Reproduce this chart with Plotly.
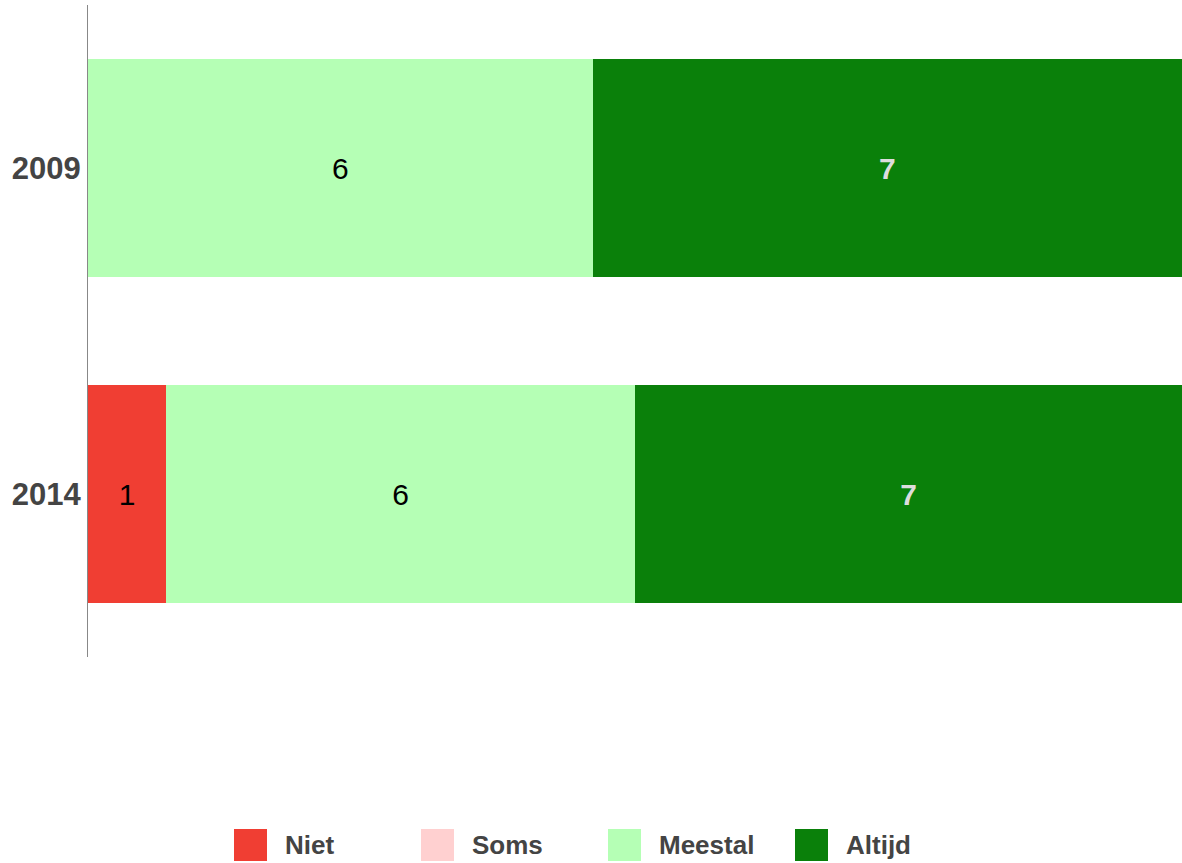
import plotly.graph_objects as go

years = ["2009", "2014"]
series = ["Niet", "Soms", "Meestal", "Altijd"]
values = {
    "Niet": [0, 1],
    "Soms": [0, 0],
    "Meestal": [6, 6],
    "Altijd": [7, 7],
}
colors = {
    "Niet": "#F03E33",
    "Soms": "#FFD0D0",
    "Meestal": "#B5FFB5",
    "Altijd": "#0A800A",
}
text_colors = {
    "Niet": "#000000",
    "Soms": "#000000",
    "Meestal": "#000000",
    "Altijd": "#DDDDDD",
}

W, H = 1182, 863
ML, MR, MT, MB = 88, 0, 5, 206

fig = go.Figure()
for s in series:
    vals = values[s]
    fig.add_trace(go.Bar(
        y=years, x=vals, name=s, orientation="h",
        marker=dict(color=colors[s], line=dict(width=0)),
        text=[str(v) if v else "" for v in vals],
        textposition="inside", insidetextanchor="middle",
        textangle=0, constraintext="none",
        textfont=dict(size=30, color=text_colors[s],
                      family="Liberation Sans, Arial, sans-serif",
                      weight="bold" if s == "Altijd" else "normal"),
        showlegend=False, hoverinfo="skip",
    ))

# custom legend (large square swatches)
pw = W - ML - MR
ph = H - MT - MB
def px_x(p):
    return (p - ML) / pw
def px_y(p):
    return (H - MB - p) / ph

shapes = []
annotations = []
start, step, sq = 234, 187, 33
for i, s in enumerate(series):
    x0 = start + i * step
    shapes.append(dict(type="rect", xref="paper", yref="paper",
                       x0=px_x(x0), x1=px_x(x0 + sq), y0=px_y(829), y1=px_y(861),
                       fillcolor=colors[s], line=dict(width=0)))
    annotations.append(dict(xref="paper", yref="paper", x=px_x(x0 + 49), y=px_y(845),
                            xanchor="left", yanchor="middle", showarrow=False,
                            text=s, font=dict(size=26, color="#444444",
                                              family="Liberation Sans, Arial, sans-serif",
                                              weight="bold")))

fig.update_layout(
    width=W, height=H,
    barmode="stack", barnorm="fraction", bargap=0.33,
    margin=dict(l=ML, r=MR, t=MT, b=MB),
    plot_bgcolor="white", paper_bgcolor="white",
    xaxis=dict(range=[0, 1], showgrid=False, showticklabels=False, zeroline=False,
               showline=False, ticks="", fixedrange=True),
    yaxis=dict(type="category", categoryorder="array", categoryarray=years,
               range=[1.5, -0.5], showgrid=False, zeroline=False,
               showline=True, linecolor="#888888", linewidth=1, ticks="",
               tickfont=dict(size=31, color="#444444",
                             family="Liberation Sans, Arial, sans-serif", weight="bold"),
               ticklabelstandoff=0),
    shapes=shapes, annotations=annotations,
)

fig.write_html("out.html", config={"displayModeBar": False},
               post_script="document.body.style.margin='0';document.body.style.overflow='hidden';")
